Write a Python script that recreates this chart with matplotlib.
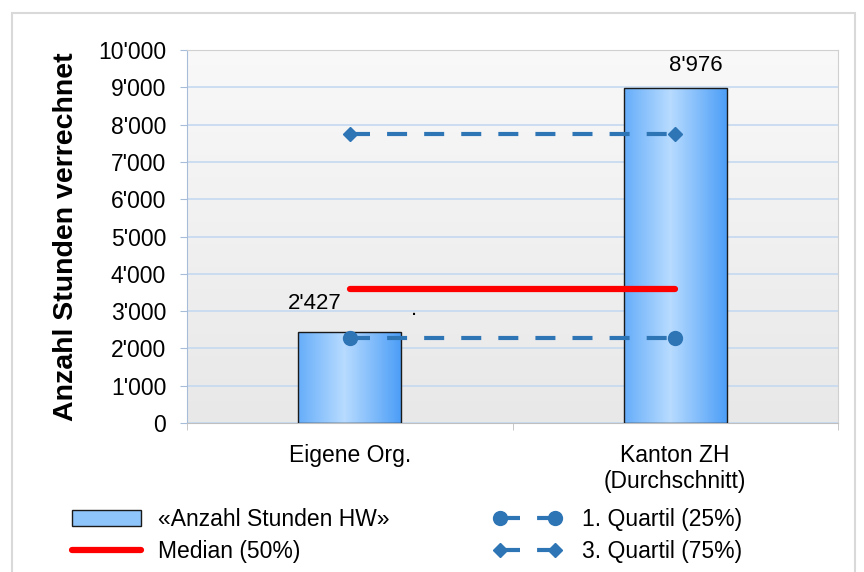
import numpy as np
import matplotlib.pyplot as plt
from matplotlib.patches import Rectangle, Patch
from matplotlib.lines import Line2D
from matplotlib.ticker import FuncFormatter

plt.rcParams['font.family'] = ['Liberation Sans', 'DejaVu Sans']

# data
categories = ["Eigene Org.", "Kanton ZH\n(Durchschnitt)"]
hours = [2427, 8976]
median = 3580
quartil_1 = 2290
quartil_3 = 7760
label_offsets = [(-25, 13), (15, 9)]   # points, for the value labels

def fmt(v, pos=None):
    return f"{int(v):,}".replace(",", "'")

fig = plt.figure(figsize=(8.64, 5.72), dpi=100)
ax = fig.add_axes([187/864, 1-423/572, 651/864, 373/572])

x = np.arange(len(categories))

# plot area gradient background
bg = np.linspace(0.975, 0.91, 256).reshape(-1, 1)
ax.imshow(np.dstack([bg, bg, bg]), extent=[0, 1, 0, 1], transform=ax.transAxes,
          aspect='auto', zorder=-2, origin='upper')
ax.patch.set_visible(False)

bars = ax.bar(x, hours, width=0.316, facecolor='none', edgecolor='#1a1a1a',
              linewidth=1.0, zorder=3)

# horizontal gradient inside the bars
t = np.linspace(0, 1, 256)
left = np.array([0.40, 0.68, 0.98])
mid = np.array([0.72, 0.86, 1.0])
right = np.array([0.30, 0.62, 0.97])
grad = np.where(t[:, None] < 0.45,
                left + (mid - left) * (t[:, None] / 0.45),
                mid + (right - mid) * ((t[:, None] - 0.45) / 0.55))
grad = grad[None, :, :]
for b in bars:
    im = ax.imshow(grad, extent=[b.get_x(), b.get_x() + b.get_width(), 0, b.get_height()],
                   aspect='auto', zorder=2)
    im.set_clip_path(b)

# median and quartiles
ax.plot(x, [median] * len(x), color='#ff0000', lw=4.5, solid_capstyle='round', zorder=4)
ax.plot(x, [quartil_1] * len(x), color='#2e75b6', lw=3, linestyle=(0, (4.8, 4.1)),
        marker='o', markersize=10, zorder=5)
ax.plot(x, [quartil_3] * len(x), color='#2e75b6', lw=3, linestyle=(0, (4.8, 4.1)),
        marker='D', markersize=7, zorder=5)

# value labels
for i, v in enumerate(hours):
    ax.annotate(fmt(v), xy=(x[i], v), xytext=label_offsets[i], textcoords='offset points',
                ha='center', va='bottom', fontsize=16)
ax.annotate(".", xy=(x[0], median), xytext=(46, -22), textcoords='offset points',
            ha='center', va='bottom', fontsize=16)

ax.set_xlim(-0.5, 1.5)
ax.set_ylim(0, 10000)
ax.set_yticks(np.arange(0, 10001, 1000))
ax.yaxis.set_major_formatter(FuncFormatter(fmt))
ax.set_xticks(x)
ax.set_xticklabels(categories, fontsize=16.5, linespacing=1.15)
ax.set_xticks([-0.5, 0.5, 1.5], minor=True)
ax.tick_params(axis='x', which='major', length=0, pad=15)
ax.tick_params(axis='x', which='minor', length=5, color='#bfbfbf')
ax.tick_params(axis='y', labelsize=16.5, length=5, color='#a6bcd8', pad=10)
ax.grid(axis='y', color='#c5d9f1', lw=1.2, zorder=1)
ax.set_axisbelow(True)
ax.spines['left'].set_color('#a6bcd8')
ax.spines['bottom'].set_color('#bfbfbf')
ax.spines['top'].set_color('#d0d0d0')
ax.spines['right'].set_color('#d0d0d0')
ax.set_ylabel("Anzahl Stunden verrechnet", fontsize=20.5, fontweight='bold', labelpad=14)

# legends
h_bar = Patch(facecolor='#8ec5fb', edgecolor='#1a1a1a', lw=1)
h_med = Line2D([], [], color='#ff0000', lw=4.5, solid_capstyle='round')
h_q1 = Line2D([], [], color='#2e75b6', lw=3, linestyle=(0, (4.8, 4.1)), marker='o', markersize=10)
h_q3 = Line2D([], [], color='#2e75b6', lw=3, linestyle=(0, (4.8, 4.1)), marker='D', markersize=7)

leg1 = fig.legend([h_bar, h_med], ["«Anzahl Stunden HW»", "Median (50%)"],
                  loc='upper left', bbox_to_anchor=(72/864, 1-508/572), frameon=False,
                  fontsize=16.5, handlelength=3.0, handletextpad=0.75, borderpad=0,
                  borderaxespad=0, labelspacing=0.38)
leg2 = fig.legend([h_q1, h_q3], ["1. Quartil (25%)", "3. Quartil (75%)"],
                  loc='upper left', bbox_to_anchor=(493/864, 1-508/572), frameon=False,
                  fontsize=16.5, handlelength=3.0, handletextpad=0.9, borderpad=0,
                  borderaxespad=0, labelspacing=0.38, numpoints=2)

# outer frame
fig.patches.append(Rectangle((12/864, -0.05), 843/864, 1.05 - 13/572, transform=fig.transFigure,
                             fill=False, edgecolor='#d9d9d9', lw=1.5))

fig.savefig("out.png", dpi=100)
